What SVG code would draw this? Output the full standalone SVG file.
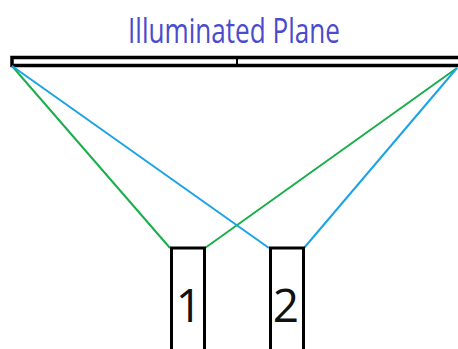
<svg xmlns="http://www.w3.org/2000/svg" width="458" height="349" viewBox="0 0 458 349">
<style>
.box{fill:none;stroke:#000;stroke-width:3}
.plane{fill:none;stroke:#000;stroke-width:3.5}
.g{stroke:#1aae4c;stroke-width:2;fill:none}
.b{stroke:#1ca3e6;stroke-width:2;fill:none}
.num{font-family:"Open Sans","Noto Sans",sans-serif;font-size:46px;fill:#111;text-anchor:middle}
</style>
<rect width="458" height="349" fill="#fff"/>
<g id="title"><text x="128" y="43" font-family="Open Sans, Noto Sans, sans-serif" font-size="35" fill="#4b4bcc" textLength="212" lengthAdjust="spacingAndGlyphs">Illuminated Plane</text></g>
<g id="plane">
<path d="M470 57.5 H12 V65.5 H470" class="plane"/>
<line x1="237" y1="58" x2="237" y2="65" stroke="#000" stroke-width="2"/>
</g>
<g id="connectors">
<line x1="12" y1="66" x2="170" y2="248" class="g"/>
<line x1="205" y1="248" x2="457" y2="68" class="g"/>
<line x1="12" y1="66" x2="269" y2="248" class="b"/>
<line x1="304" y1="248" x2="457" y2="68" class="b"/>
</g>
<g id="source1">
<path d="M171.5 352 V248 H204.5 V352" class="box"/>
<text x="189" y="322" class="num">1</text>
</g>
<g id="source2">
<path d="M270.5 352 V248 H303.5 V352" class="box"/>
<text x="286" y="322" class="num">2</text>
</g>
</svg>
